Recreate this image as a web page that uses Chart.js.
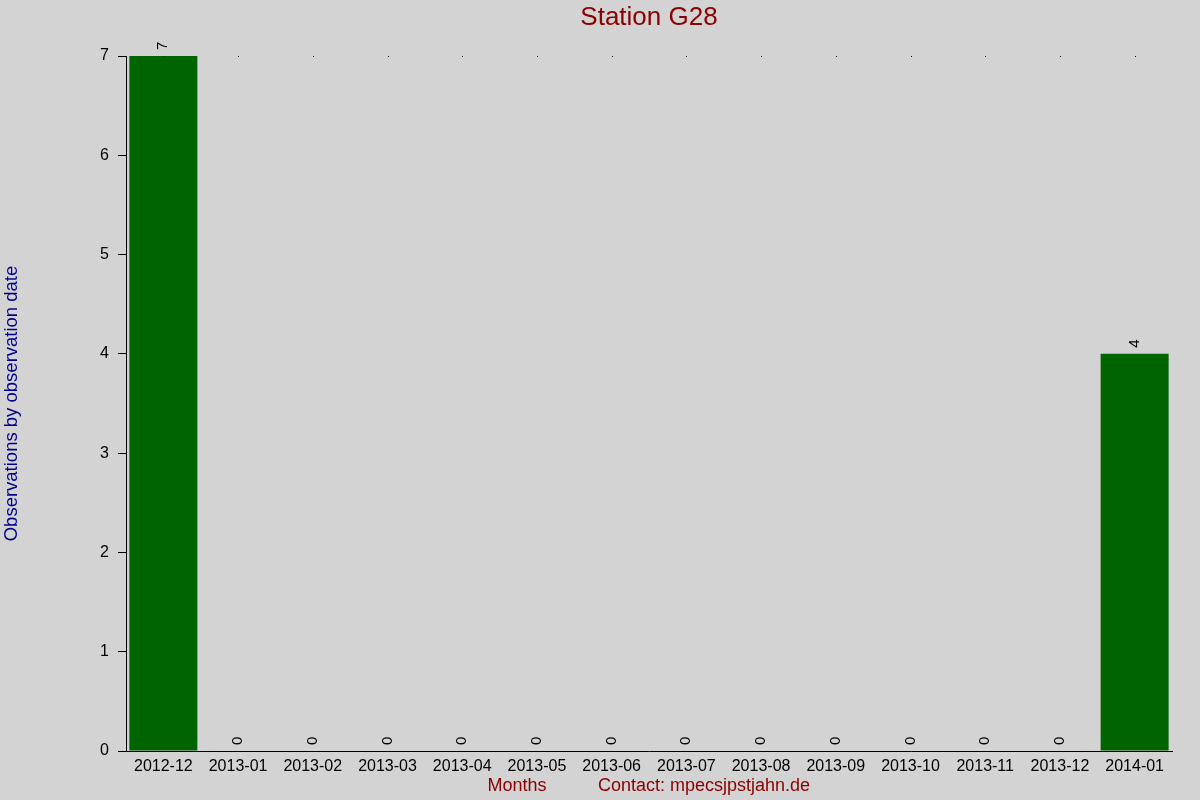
<!DOCTYPE html>
<html><head><meta charset="utf-8">
<script src="https://cdn.jsdelivr.net/npm/chart.js@4"></script>
<style>html,body{margin:0;padding:0;background:#d3d3d3;}canvas{display:block;}</style>
</head><body>
<canvas id="c" width="1200" height="800"></canvas>
<script>
const months = ["2012-12","2013-01","2013-02","2013-03","2013-04","2013-05","2013-06","2013-07","2013-08","2013-09","2013-10","2013-11","2013-12","2014-01"];
const observations = [7,0,0,0,0,0,0,0,0,0,0,0,0,4];
const yTicks = [0,1,2,3,4,5,6,7];
const titleText = "Station G28";
const yTitle = "Observations by observation date";
const xTitle = "Months";
const contactText = "Contact: mpecsjpstjahn.de";

const FONT = "'Liberation Sans', Arial, sans-serif";

const bgPlugin = {
  id: 'bg',
  beforeDraw(chart) {
    const ctx = chart.ctx;
    ctx.save();
    ctx.fillStyle = '#d3d3d3';
    ctx.fillRect(0, 0, chart.width, chart.height);
    ctx.restore();
  }
};

const decoPlugin = {
  id: 'deco',
  afterDraw(chart) {
    const ctx = chart.ctx;
    const xs = chart.scales.x, ys = chart.scales.y;
    const ca = chart.chartArea;
    ctx.save();
    ctx.fillStyle = '#000';
    const topY = ys.getPixelForValue(ys.max);
    months.forEach((m, i) => {
      const x = Math.round(xs.getPixelForValue(i));
      ctx.fillRect(x, Math.round(topY), 1, 1);
    });
    ctx.font = '15px ' + FONT;
    ctx.fillStyle = '#000';
    ctx.textAlign = 'left';
    ctx.textBaseline = 'middle';
    observations.forEach((v, i) => {
      const x = xs.getPixelForValue(i);
      const y = ys.getPixelForValue(v) - 6;
      ctx.save();
      ctx.translate(x, y);
      ctx.rotate(-Math.PI / 2);
      ctx.fillText(String(v), 0, 0);
      ctx.restore();
    });
    ctx.fillStyle = '#8b0000';
    ctx.font = '26px ' + FONT;
    ctx.textAlign = 'center';
    ctx.textBaseline = 'middle';
    ctx.fillText(titleText, (ca.left + ca.right) / 2, 18);
    ctx.font = '18px ' + FONT;
    ctx.fillText(xTitle, 517, 786);
    ctx.fillText(contactText, 704, 786);
    ctx.fillStyle = '#00008b';
    ctx.font = '18.5px ' + FONT;
    ctx.save();
    ctx.translate(12, (ca.top + ca.bottom) / 2);
    ctx.rotate(-Math.PI / 2);
    ctx.fillText(yTitle, 0, 0);
    ctx.restore();
    ctx.restore();
  }
};

new Chart(document.getElementById('c'), {
  type: 'bar',
  data: {
    labels: months,
    datasets: [{
      data: observations,
      backgroundColor: '#006400',
      borderWidth: 0,
      categoryPercentage: 1.0,
      barPercentage: 0.91
    }]
  },
  options: {
    responsive: false,
    animation: false,
    devicePixelRatio: 1,
    layout: { padding: { left: 0, right: 28, top: 56, bottom: 0 } },
    plugins: { legend: { display: false }, tooltip: { enabled: false }, title: { display: false } },
    scales: {
      x: {
        grid: { display: false, drawTicks: false },
        border: { display: true, color: '#000', width: 1 },
        ticks: { color: '#000', font: { size: 16, family: FONT }, padding: 6, maxRotation: 0, autoSkip: false },
        afterFit(s) { s.height = 49; }
      },
      y: {
        min: 0, max: 7,
        afterBuildTicks(s) { s.ticks = yTicks.map(v => ({ value: v })); },
        grid: { display: true, drawOnChartArea: false, drawTicks: true, tickLength: 8, color: '#000' },
        border: { display: true, color: '#000', width: 1 },
        ticks: { color: '#000', font: { size: 16, family: FONT }, padding: 9 },
        afterFit(s) { s.width = 126; }
      }
    }
  },
  plugins: [bgPlugin, decoPlugin]
});
</script>
</body></html>
